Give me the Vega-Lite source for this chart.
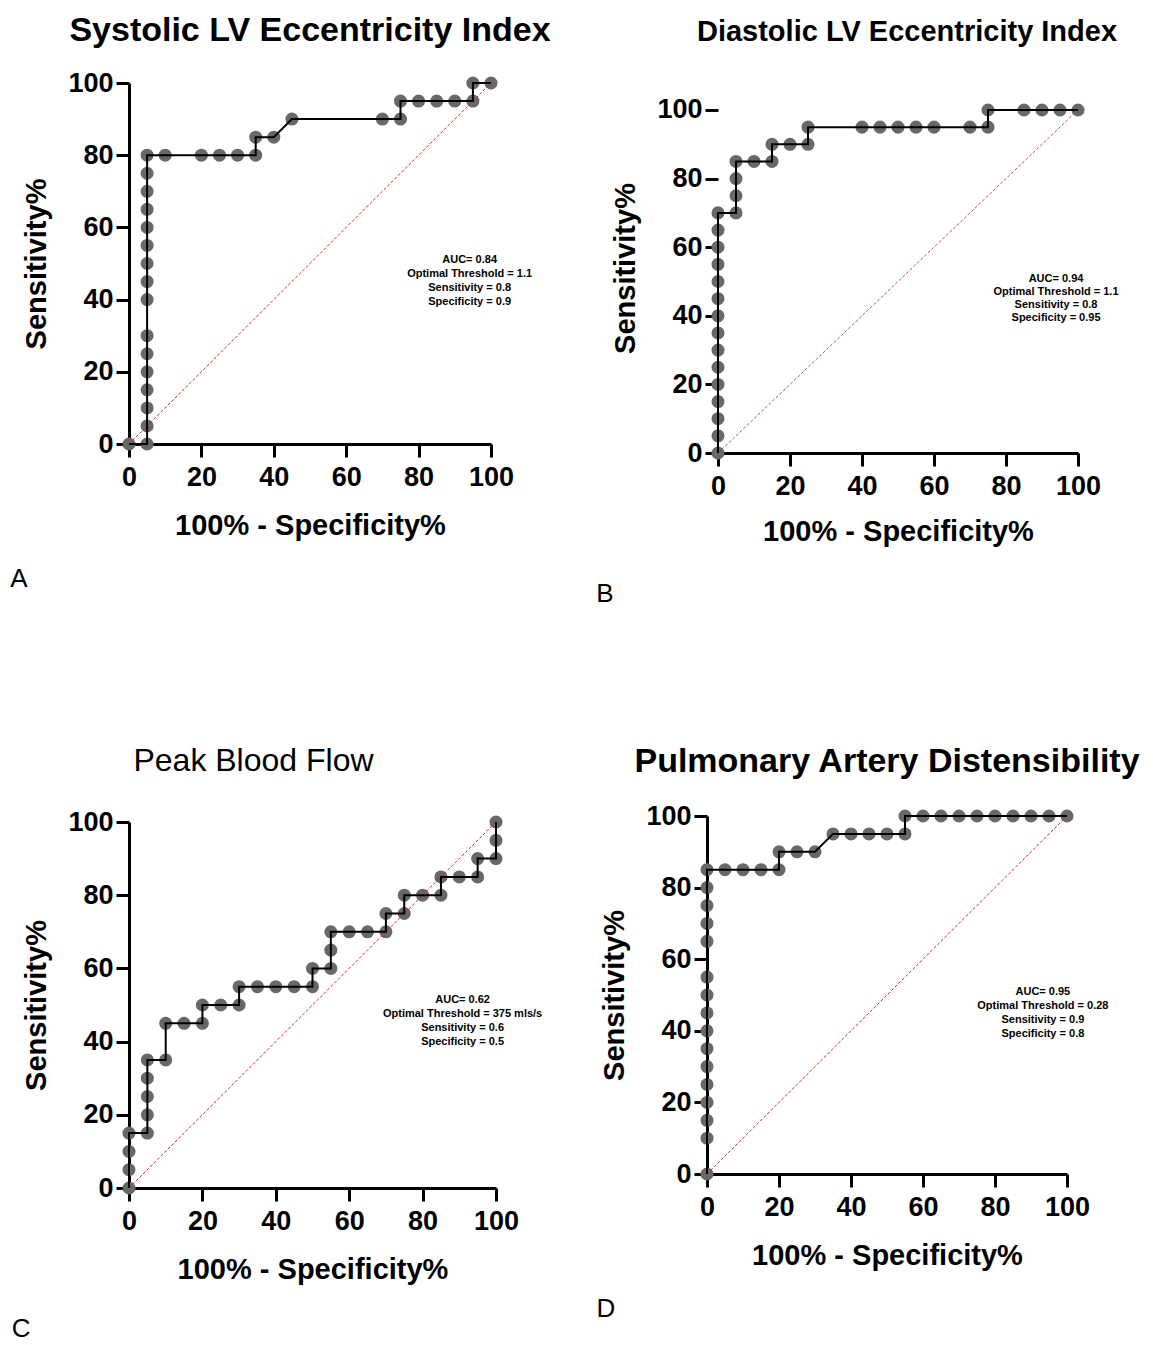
{
  "$schema": "https://vega.github.io/schema/vega-lite/v6.json",
  "background": "white",
  "padding": {"left": 10, "top": 14, "right": 5, "bottom": 5},
  "columns": 2,
  "align": "none",
  "bounds": "full",
  "spacing": {"row": 138, "column": 45},
  "datasets": {
    "A": [
      {"x": 0, "y": 0}, {"x": 5, "y": 0}, {"x": 5, "y": 5}, {"x": 5, "y": 10}, {"x": 5, "y": 15}, {"x": 5, "y": 20}, {"x": 5, "y": 25}, {"x": 5, "y": 30}, {"x": 5, "y": 40}, {"x": 5, "y": 45}, {"x": 5, "y": 50}, {"x": 5, "y": 55}, {"x": 5, "y": 60}, {"x": 5, "y": 65}, {"x": 5, "y": 70}, {"x": 5, "y": 75}, {"x": 5, "y": 80},
      {"x": 10, "y": 80}, {"x": 20, "y": 80}, {"x": 25, "y": 80}, {"x": 30, "y": 80}, {"x": 35, "y": 80}, {"x": 35, "y": 85}, {"x": 40, "y": 85}, {"x": 45, "y": 90}, {"x": 70, "y": 90}, {"x": 75, "y": 90}, {"x": 75, "y": 95}, {"x": 80, "y": 95}, {"x": 85, "y": 95}, {"x": 90, "y": 95}, {"x": 95, "y": 95}, {"x": 95, "y": 100}, {"x": 100, "y": 100}
    ],
    "B": [
      {"x": 0, "y": 0}, {"x": 0, "y": 5}, {"x": 0, "y": 10}, {"x": 0, "y": 15}, {"x": 0, "y": 20}, {"x": 0, "y": 25}, {"x": 0, "y": 30}, {"x": 0, "y": 35}, {"x": 0, "y": 40}, {"x": 0, "y": 45}, {"x": 0, "y": 50}, {"x": 0, "y": 55}, {"x": 0, "y": 60}, {"x": 0, "y": 65}, {"x": 0, "y": 70},
      {"x": 5, "y": 70}, {"x": 5, "y": 75}, {"x": 5, "y": 80}, {"x": 5, "y": 85}, {"x": 10, "y": 85}, {"x": 15, "y": 85}, {"x": 15, "y": 90}, {"x": 20, "y": 90}, {"x": 25, "y": 90}, {"x": 25, "y": 95}, {"x": 40, "y": 95}, {"x": 45, "y": 95}, {"x": 50, "y": 95}, {"x": 55, "y": 95}, {"x": 60, "y": 95}, {"x": 70, "y": 95}, {"x": 75, "y": 95}, {"x": 75, "y": 100}, {"x": 85, "y": 100}, {"x": 90, "y": 100}, {"x": 95, "y": 100}, {"x": 100, "y": 100}
    ],
    "C": [
      {"x": 0, "y": 0}, {"x": 0, "y": 5}, {"x": 0, "y": 10}, {"x": 0, "y": 15}, {"x": 5, "y": 15}, {"x": 5, "y": 20}, {"x": 5, "y": 25}, {"x": 5, "y": 30}, {"x": 5, "y": 35}, {"x": 10, "y": 35}, {"x": 10, "y": 45}, {"x": 15, "y": 45}, {"x": 20, "y": 45}, {"x": 20, "y": 50}, {"x": 25, "y": 50}, {"x": 30, "y": 50}, {"x": 30, "y": 55}, {"x": 35, "y": 55}, {"x": 40, "y": 55}, {"x": 45, "y": 55}, {"x": 50, "y": 55}, {"x": 50, "y": 60}, {"x": 55, "y": 60}, {"x": 55, "y": 65}, {"x": 55, "y": 70}, {"x": 60, "y": 70}, {"x": 65, "y": 70}, {"x": 70, "y": 70}, {"x": 70, "y": 75}, {"x": 75, "y": 75}, {"x": 75, "y": 80}, {"x": 80, "y": 80}, {"x": 85, "y": 80}, {"x": 85, "y": 85}, {"x": 90, "y": 85}, {"x": 95, "y": 85}, {"x": 95, "y": 90}, {"x": 100, "y": 90}, {"x": 100, "y": 95}, {"x": 100, "y": 100}
    ],
    "D": [
      {"x": 0, "y": 0}, {"x": 0, "y": 10}, {"x": 0, "y": 15}, {"x": 0, "y": 20}, {"x": 0, "y": 25}, {"x": 0, "y": 30}, {"x": 0, "y": 35}, {"x": 0, "y": 40}, {"x": 0, "y": 45}, {"x": 0, "y": 50}, {"x": 0, "y": 55}, {"x": 0, "y": 65}, {"x": 0, "y": 70}, {"x": 0, "y": 75}, {"x": 0, "y": 80}, {"x": 0, "y": 85},
      {"x": 5, "y": 85}, {"x": 10, "y": 85}, {"x": 15, "y": 85}, {"x": 20, "y": 85}, {"x": 20, "y": 90}, {"x": 25, "y": 90}, {"x": 30, "y": 90}, {"x": 35, "y": 95}, {"x": 40, "y": 95}, {"x": 45, "y": 95}, {"x": 50, "y": 95}, {"x": 55, "y": 95}, {"x": 55, "y": 100}, {"x": 60, "y": 100}, {"x": 65, "y": 100}, {"x": 70, "y": 100}, {"x": 75, "y": 100}, {"x": 80, "y": 100}, {"x": 85, "y": 100}, {"x": 90, "y": 100}, {"x": 95, "y": 100}, {"x": 100, "y": 100}
    ],
    "diag": [{"x": 0, "y": 0}, {"x": 100, "y": 100}],
    "annA": [
      {"x": 94.1, "y": 51.0, "t": "AUC= 0.84"},
      {"x": 94.1, "y": 47.1, "t": "Optimal Threshold = 1.1"},
      {"x": 94.1, "y": 43.2, "t": "Sensitivity = 0.8"},
      {"x": 94.1, "y": 39.3, "t": "Specificity = 0.9"}
    ],
    "annB": [
      {"x": 93.9, "y": 50.7, "t": "AUC= 0.94"},
      {"x": 93.9, "y": 46.9, "t": "Optimal Threshold = 1.1"},
      {"x": 93.9, "y": 43.1, "t": "Sensitivity = 0.8"},
      {"x": 93.9, "y": 39.4, "t": "Specificity = 0.95"}
    ],
    "annC": [
      {"x": 90.9, "y": 51.4, "t": "AUC= 0.62"},
      {"x": 90.9, "y": 47.5, "t": "Optimal Threshold = 375 mls/s"},
      {"x": 90.9, "y": 43.7, "t": "Sensitivity = 0.6"},
      {"x": 90.9, "y": 39.9, "t": "Specificity = 0.5"}
    ],
    "annD": [
      {"x": 93.3, "y": 50.8, "t": "AUC= 0.95"},
      {"x": 93.3, "y": 46.9, "t": "Optimal Threshold = 0.28"},
      {"x": 93.3, "y": 43.0, "t": "Sensitivity = 0.9"},
      {"x": 93.3, "y": 39.1, "t": "Specificity = 0.8"}
    ],
    "letA": [{"x": -30.4, "y": -37.4, "t": "A"}],
    "letB": [{"x": -31.4, "y": -41.1, "t": "B"}],
    "letC": [{"x": -29.4, "y": -38.5, "t": "C"}],
    "letD": [{"x": -28.1, "y": -37.7, "t": "D"}]
  },
  "concat": [
    {
      "width": 362, "height": 361,
      "title": {"text": "Systolic LV Eccentricity Index", "fontSize": 34, "fontWeight": "bold", "offset": 21},
      "encoding": {
        "x": {"field": "x", "type": "quantitative", "scale": {"domain": [0, 100], "nice": false}, "axis": {"title": "100% - Specificity%", "values": [0, 20, 40, 60, 80, 100]}},
        "y": {"field": "y", "type": "quantitative", "scale": {"domain": [0, 100], "nice": false}, "axis": {"title": "Sensitivity%", "values": [0, 20, 40, 60, 80, 100]}}
      },
      "layer": [
        {"data": {"name": "A"}, "mark": {"type": "circle", "size": 170, "color": "#686868", "opacity": 1}},
        {"data": {"name": "diag"}, "mark": {"type": "line", "color": "#e0201b", "strokeWidth": 1, "strokeDash": [3, 2]}},
        {"data": {"name": "A"}, "mark": {"type": "line", "color": "black", "strokeWidth": 2}, "encoding": {"order": {"value": null}}},
        {"data": {"name": "annA"}, "mark": {"type": "text", "fontSize": 11, "fontWeight": "bold", "align": "center", "baseline": "middle", "color": "black"}, "encoding": {"text": {"field": "t"}}},
        {"data": {"name": "letA"}, "mark": {"type": "text", "fontSize": 26, "align": "center", "baseline": "middle", "color": "black"}, "encoding": {"text": {"field": "t"}}}
      ]
    },
    {
      "width": 360, "height": 370,
      "title": {"text": "Diastolic LV Eccentricity Index", "fontSize": 29, "fontWeight": "bold", "offset": 36, "dx": 9},
      "encoding": {
        "x": {"field": "x", "type": "quantitative", "scale": {"domain": [0, 100], "nice": false}, "axis": {"title": "100% - Specificity%", "values": [0, 20, 40, 60, 80, 100], "titlePadding": 18}},
        "y": {"field": "y", "type": "quantitative", "scale": {"domain": [0, 107.87], "nice": false}, "axis": {"title": "Sensitivity%", "values": [0, 20, 40, 60, 80, 100], "domain": false}}
      },
      "layer": [
        {"mark": {"type": "rule", "color": "black", "strokeWidth": 3}, "encoding": {"x": {"datum": 0}, "y": {"datum": 0}, "y2": {"datum": 100}}},
        {"data": {"name": "B"}, "mark": {"type": "circle", "size": 170, "color": "#686868", "opacity": 1}},
        {"data": {"name": "diag"}, "mark": {"type": "line", "color": "#c0504d", "strokeWidth": 1, "strokeDash": [3, 2]}},
        {"data": {"name": "B"}, "mark": {"type": "line", "color": "black", "strokeWidth": 2}, "encoding": {"order": {"value": null}}},
        {"data": {"name": "annB"}, "mark": {"type": "text", "fontSize": 11, "fontWeight": "bold", "align": "center", "baseline": "middle", "color": "black"}, "encoding": {"text": {"field": "t"}}},
        {"data": {"name": "letB"}, "mark": {"type": "text", "fontSize": 26, "align": "center", "baseline": "middle", "color": "black"}, "encoding": {"text": {"field": "t"}}}
      ]
    },
    {
      "width": 367, "height": 366,
      "title": {"text": "Peak Blood Flow", "fontSize": 32, "fontWeight": "normal", "offset": 30, "dx": -59},
      "encoding": {
        "x": {"field": "x", "type": "quantitative", "scale": {"domain": [0, 100], "nice": false}, "axis": {"title": "100% - Specificity%", "values": [0, 20, 40, 60, 80, 100]}},
        "y": {"field": "y", "type": "quantitative", "scale": {"domain": [0, 100], "nice": false}, "axis": {"title": "Sensitivity%", "values": [0, 20, 40, 60, 80, 100]}}
      },
      "layer": [
        {"data": {"name": "C"}, "mark": {"type": "circle", "size": 170, "color": "#686868", "opacity": 1}},
        {"data": {"name": "diag"}, "mark": {"type": "line", "color": "#e0201b", "strokeWidth": 1, "strokeDash": [3, 2]}},
        {"data": {"name": "C"}, "mark": {"type": "line", "color": "black", "strokeWidth": 2}, "encoding": {"order": {"value": null}}},
        {"data": {"name": "annC"}, "mark": {"type": "text", "fontSize": 11, "fontWeight": "bold", "align": "center", "baseline": "middle", "color": "black"}, "encoding": {"text": {"field": "t"}}},
        {"data": {"name": "letC"}, "mark": {"type": "text", "fontSize": 26, "align": "center", "baseline": "middle", "color": "black"}, "encoding": {"text": {"field": "t"}}}
      ]
    },
    {
      "width": 360, "height": 358,
      "title": {"text": "Pulmonary Artery Distensibility", "fontSize": 34, "fontWeight": "bold", "offset": 23},
      "encoding": {
        "x": {"field": "x", "type": "quantitative", "scale": {"domain": [0, 100], "nice": false}, "axis": {"title": "100% - Specificity%", "values": [0, 20, 40, 60, 80, 100]}},
        "y": {"field": "y", "type": "quantitative", "scale": {"domain": [0, 100], "nice": false}, "axis": {"title": "Sensitivity%", "values": [0, 20, 40, 60, 80, 100]}}
      },
      "layer": [
        {"data": {"name": "D"}, "mark": {"type": "circle", "size": 170, "color": "#686868", "opacity": 1}},
        {"data": {"name": "diag"}, "mark": {"type": "line", "color": "#e0201b", "strokeWidth": 1, "strokeDash": [3, 2]}},
        {"data": {"name": "D"}, "mark": {"type": "line", "color": "black", "strokeWidth": 2}, "encoding": {"order": {"value": null}}},
        {"data": {"name": "annD"}, "mark": {"type": "text", "fontSize": 11, "fontWeight": "bold", "align": "center", "baseline": "middle", "color": "black"}, "encoding": {"text": {"field": "t"}}},
        {"data": {"name": "letD"}, "mark": {"type": "text", "fontSize": 26, "align": "center", "baseline": "middle", "color": "black"}, "encoding": {"text": {"field": "t"}}}
      ]
    }
  ],
  "config": {
    "font": "Liberation Sans",
    "view": {"stroke": null},
    "axis": {
      "domainColor": "black", "domainWidth": 3, "tickColor": "black", "tickWidth": 3, "tickSize": 13,
      "labelFontSize": 27, "labelFontWeight": "bold", "labelColor": "black", "labelFont": "Liberation Sans",
      "titleFontSize": 29, "titleFontWeight": "bold", "titleColor": "black", "titleFont": "Liberation Sans",
      "grid": false, "labelFlush": false, "labelOverlap": false, "zindex": 1
    },
    "axisX": {"labelPadding": 7, "titlePadding": 21},
    "axisY": {"labelPadding": 3, "titlePadding": 16},
    "title": {"color": "black", "frame": "group", "anchor": "middle", "font": "Liberation Sans"}
  }
}
